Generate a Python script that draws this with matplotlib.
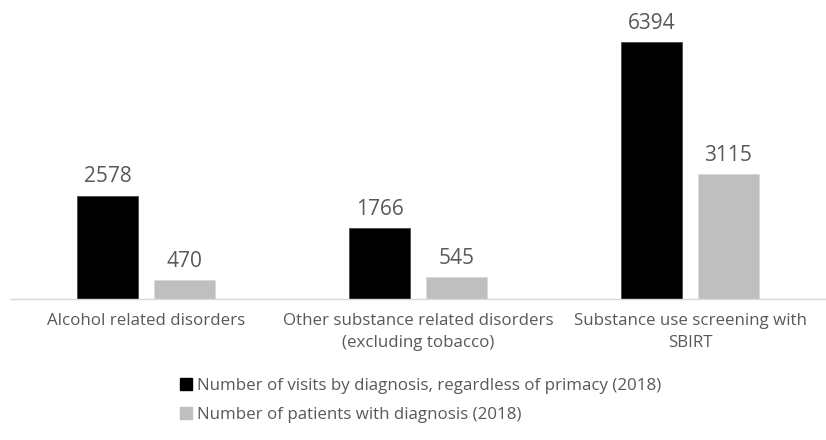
import numpy as np
import matplotlib
matplotlib.use("Agg")
import matplotlib.pyplot as plt
from matplotlib.patches import Patch

plt.rcParams['font.family'] = ['Open Sans', 'DejaVu Sans']

categories = ["Alcohol related disorders",
              "Other substance related disorders\n(excluding tobacco)",
              "Substance use screening with\nSBIRT"]
visits = [2578, 1766, 6394]
patients = [470, 545, 3115]
series_names = ["Number of visits by diagnosis, regardless of primacy (2018)",
                "Number of patients with diagnosis (2018)"]

txt = '#595959'
fig = plt.figure(figsize=(8.26, 4.40), dpi=100)
ax = fig.add_axes([10/826, 1 - 299/440, 816/826, 281/440])

x = np.arange(len(categories))
w = 0.224
off = 0.1415
b1 = ax.bar(x - off, visits, w, color='black', edgecolor='#404040', linewidth=0.5)
b2 = ax.bar(x + off, patients, w, color='#bfbfbf', edgecolor='#d9d9d9', linewidth=0.5)
ax.bar_label(b1, padding=6, fontsize=15, color=txt)
ax.bar_label(b2, padding=6, fontsize=15, color=txt)

ax.set_xlim(-0.5, 2.5)
ax.set_ylim(0, 7000)
ax.set_xticks(x)
ax.set_xticklabels(categories, fontsize=12.2, color=txt, linespacing=1.55)
ax.tick_params(axis='x', length=0, pad=10)
ax.set_yticks([])
for s in ['top', 'left', 'right']:
    ax.spines[s].set_visible(False)
ax.spines['bottom'].set_color('#d9d9d9')
ax.spines['bottom'].set_linewidth(1)

handles = [Patch(facecolor='black', edgecolor='black'),
           Patch(facecolor='#bfbfbf', edgecolor='#bfbfbf')]
fig.legend(handles, series_names, loc='upper left', bbox_to_anchor=(180/826, 1 - 378/440),
           frameon=False, fontsize=12.2, labelcolor=txt, handlelength=0.7, handleheight=0.7,
           handletextpad=0.3, labelspacing=0.75, borderpad=0, borderaxespad=0)

fig.savefig("out.png", dpi=100)
